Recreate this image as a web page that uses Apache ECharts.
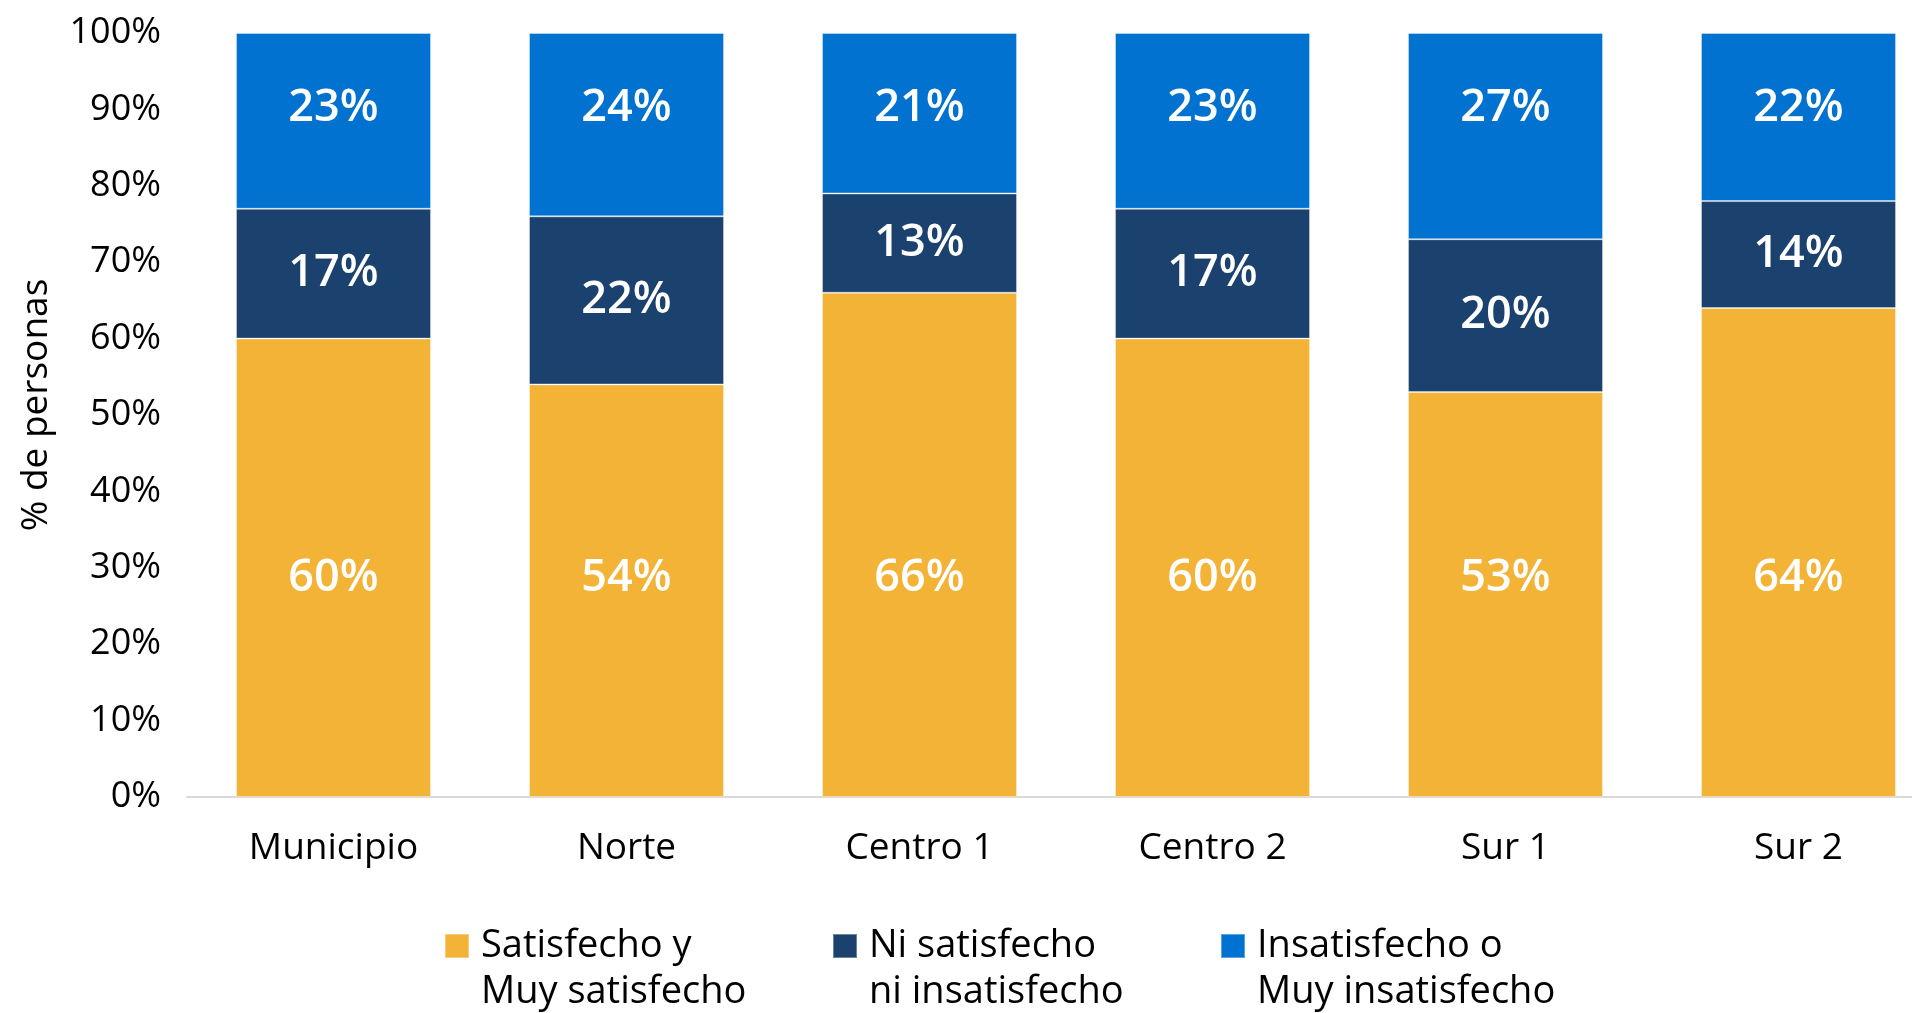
<html>
<head>
<meta charset="utf-8">
<script src="https://cdn.jsdelivr.net/npm/echarts@6/dist/echarts.min.js"></script>
<style>
  body { margin: 0; background: #fff; overflow: hidden; }
  /* el grafico original queda cortado por la derecha */
  #chart { width: 1945px; height: 1013px; }
</style>
</head>
<body>
<div id="chart"></div>
<script type="text/javascript">
// categorias y valores (%)
var zonas = ['Municipio', 'Norte', 'Centro 1', 'Centro 2', 'Sur 1', 'Sur 2'];
var satisfecho = [60, 54, 66, 60, 53, 64];
var niNi = [17, 22, 13, 17, 20, 14];
var insatisfecho = [23, 24, 21, 23, 27, 22];
var nombres = ['Satisfecho y\nMuy satisfecho', 'Ni satisfecho\nni insatisfecho', 'Insatisfecho o\nMuy insatisfecho'];
var colores = ['#F3B337', '#1B416E', '#0272D0'];

var fuente = '"Open Sans", "Noto Sans", sans-serif';

var chart = echarts.init(document.getElementById('chart'));

function serie(idx, data, label) {
    return {
        name: nombres[idx],
        type: 'bar',
        stack: 'total',
        data: data,
        barWidth: 195,
        itemStyle: {
            color: colores[idx],
            borderColor: 'rgba(255,255,255,0.35)',
            borderWidth: 1
        },
        label: Object.assign({
            show: true,
            color: '#fff',
            fontFamily: fuente,
            fontSize: 45,
            fontWeight: 600,
            formatter: function (p) { return p.value + '%'; }
        }, label)
    };
}

var option = {
    animation: false,
    textStyle: { fontFamily: fuente },
    grid: {
        left: 187,
        top: 33,
        right: 0,
        height: 764,
        containLabel: false
    },
    legend: {
        left: 439,
        top: 872,
        itemWidth: 24,
        itemHeight: 24,
        itemGap: 31,
        icon: 'rect',
        // linea vacia arriba para que el cuadro quede a la altura de la primera linea
        formatter: function (name) { return '\n' + name; },
        textStyle: {
            fontFamily: fuente,
            fontSize: 38,
            lineHeight: 46,
            color: '#000',
            width: 320,
            padding: [0, 0, 0, 7]
        },
        data: nombres
    },
    xAxis: {
        type: 'category',
        data: zonas,
        axisTick: { show: false },
        axisLine: { lineStyle: { color: '#D9D9D9', width: 2 } },
        axisLabel: {
            fontFamily: fuente,
            fontSize: 37,
            color: '#000',
            margin: 33
        }
    },
    yAxis: {
        type: 'value',
        min: 0,
        max: 100,
        interval: 10,
        name: '% de personas',
        nameLocation: 'middle',
        nameGap: 132,
        nameTextStyle: {
            fontFamily: fuente,
            fontSize: 37,
            color: '#000',
            padding: [0, 0, 0, 20]
        },
        splitLine: { show: false },
        axisLine: { show: false },
        axisTick: { show: false },
        axisLabel: {
            fontFamily: fuente,
            fontSize: 36,
            color: '#000',
            margin: 26,
            formatter: '{value}%'
        }
    },
    series: [
        serie(0, satisfecho, { position: 'insideBottom', distance: 196 }),
        serie(1, niNi, { position: 'inside' }),
        serie(2, insatisfecho, { position: 'insideTop', distance: 53 })
    ]
};

chart.setOption(option);
</script>
</body>
</html>
